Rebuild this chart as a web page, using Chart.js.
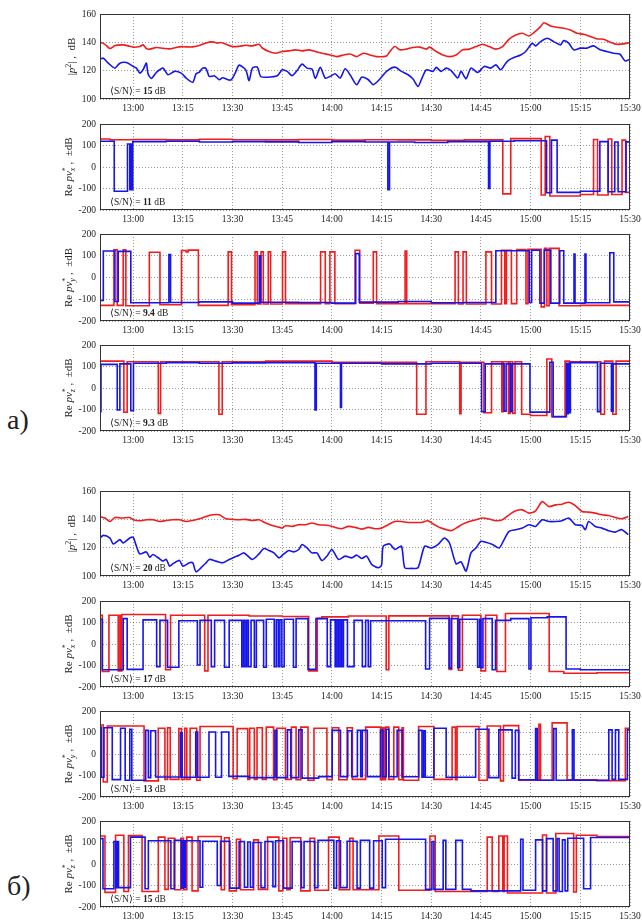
<!DOCTYPE html>
<html>
<head>
<meta charset="utf-8">
<script src="https://cdn.jsdelivr.net/npm/chart.js"></script>
<style>
  body { margin: 0; background: #fff; width: 642px; height: 922px; position: relative; overflow: hidden; }
  canvas { position: absolute; left: 0; }
  .tag { position: absolute; left: 7px; font: 28px "Liberation Serif", "Times New Roman", serif; line-height: 28px; color: #222; }
</style>
</head>
<body>
<div class="tag" style="top:406px">a)</div>
<div class="tag" style="top:872px">б)</div>
<canvas id="p1"></canvas>
<canvas id="p2"></canvas>
<canvas id="p3"></canvas>
<canvas id="p4"></canvas>
<canvas id="p5"></canvas>
<canvas id="p6"></canvas>
<canvas id="p7"></canvas>
<canvas id="p8"></canvas>
<script>
// time axis: minutes after 12:50
const timeTicks = [10, 25, 40, 55, 70, 85, 100, 115, 130, 145, 160];
const timeLabels = ['13:00', '13:15', '13:30', '13:45', '14:00', '14:15', '14:30', '14:45', '15:00', '15:15', '15:30'];
const powTicks = [100, 120, 140, 160];
const reTicks = [-200, -100, 0, 100, 200];
const snrValues = ['15', '11', '9.4', '9.3', '20', '17', '13', '15'];

// а) |p^2|
const aPowRed = [[0,140],[1.5,138.6],[3,135.6],[4.5,137.7],[7,138.2],[8.5,137.5],[10,136.6],[12,137],[13,138.2],[14,135.6],[15,135.2],[17,136.3],[19,135.8],[21,135.4],[23,136.4],[24.5,137],[26,136.8],[28,136.8],[30,137.7],[32,139.6],[34,140.3],[35.5,139.4],[36.5,139.9],[38,138.7],[40,137],[42,137.2],[44,137.9],[46,137.5],[48,138.6],[49,136],[51,133.5],[53,132.3],[55,133.5],[57,134],[59,134.7],[61,134],[63,134.7],[65,133.5],[67,132.3],[69.5,131.1],[71.5,129.9],[73.5,131.1],[75.5,131.8],[77.5,129.9],[79.5,132.3],[81.5,131.1],[83.5,129.9],[86.5,130.4],[87.5,133.5],[89,137],[90.5,134.7],[92.5,135.2],[94.5,136.4],[96.5,136.6],[98.5,135.2],[99.5,136.6],[101.5,133.5],[103.5,131.1],[105.5,129.9],[107.5,131.1],[109.5,134.7],[111.5,135.2],[113.5,137],[115.5,138.6],[117.5,137],[119.5,135.2],[121.5,137],[123.5,142.2],[125.5,145.2],[127.5,146.4],[129.5,144.5],[131,146.9],[133,151.1],[134,153.8],[136,151.6],[138,150.6],[140,149.9],[142,148.7],[144,146.4],[146,145.7],[148,144.1],[150,142.4],[152,142.2],[154,140.1],[156,138.6],[158,138.9],[160,139.9]];
const aPowBlue = [[0,128.1],[1,128.8],[2.5,125.3],[4.5,121.8],[6,125.3],[8,125.7],[10,123],[11,121.8],[12,118.3],[13,120.6],[14,125.3],[14.5,117.8],[15.5,114.5],[17,118.7],[19,121.8],[20.5,117.1],[22.5,119.5],[24.5,118.3],[26,114.8],[28,111.8],[29,117.8],[30,119],[31,121.8],[32,121.6],[33,115.9],[34.5,116.4],[36,113.6],[37,115],[39.5,113.4],[41,119.2],[42,123.9],[44,120.6],[45,112.9],[46,121.8],[47.5,122.5],[48.5,115.9],[50.5,115.4],[53.5,116.4],[55,120.6],[56.5,119.5],[58,116.4],[59.5,120.1],[61,124.6],[62.5,121.8],[64,121.1],[65,114.5],[66.5,122.3],[68,114.8],[69.5,116],[71,117.8],[72.5,114.8],[74,121.3],[75.5,117.1],[77.5,110.1],[79,115.4],[81,113.6],[82.5,110.1],[84.5,114.1],[86.5,119.5],[89,122.5],[91,119.5],[93,117.1],[94.5,114.1],[96,108.9],[97,113.6],[98.5,120.6],[100.5,119.5],[101.5,122.3],[103,119.5],[104.5,121.8],[106,120.1],[108,114.8],[109,119.5],[110.5,114.3],[112,121.8],[114,118.7],[116,123],[118,121.8],[119.5,124.1],[121,120.6],[122.5,125.3],[123.5,127.6],[125,129.3],[127,131.1],[128.5,133.5],[130.5,139.4],[131.5,137.5],[133,140.5],[135,142.9],[137,140.5],[139,138.2],[140,141.2],[141.5,139.4],[143,134.7],[145,135.9],[147,135.9],[149,137.5],[151,134.7],[153,133.5],[155,132.3],[157,131.6],[158.5,126.9],[160,128.1]];

// а) Re pv*  (each pair: level from that minute on)
const aXRed = [[0,130],[3,127],[10,128],[20,126],[30,129],[40,127],[50,126],[60,128],[70,125],[80,127],[90,126],[100,124],[110,126],[121.6,-125],[124,132],[133.2,-130],[134.4,142],[135.8,-135],[145,-128],[149,128],[150.2,-130],[153.4,130],[154.5,-128],[157.6,125],[158.7,-118],[160,-118]];
const aXBlue = [[0,120],[4.3,-113],[8.3,107],[9.0,-106],[9.3,107],[9.6,-106],[9.9,118],[20,120],[30,116],[40,118],[50,117],[60,114],[70,118],[80,116],[86.9,-106],[87.4,116],[95,114],[105,118],[117.3,-100],[117.7,120],[125,122],[134.8,-120],[136.3,125],[138,-118],[145,-113],[150.9,118],[153.4,-115],[155.4,116],[156.4,-115],[158.8,117],[160,117]];
const aYRed = [[0,-128],[4.2,127],[5.2,-128],[7.0,127],[7.8,-130],[14.9,116],[18.1,-125],[24.6,124],[26.0,118],[26.6,126],[29.7,-128],[38.7,118],[39.7,-125],[46.8,118],[47.5,-122],[48.6,118],[49.3,-122],[50.8,118],[51.5,-122],[55.1,118],[56.0,-120],[66.6,118],[68.0,-120],[69.4,118],[70.9,-120],[77.0,125],[78.4,-118],[82.5,118],[83.5,-120],[92.1,122],[92.6,-120],[107.2,118],[108.2,-122],[109.6,118],[110.6,-122],[116.5,118],[118.2,-122],[121.2,125],[122.2,-120],[122.7,125],[124.2,-120],[125.8,129],[128.6,-120],[129.2,130],[133.2,-135],[134.2,134],[134.9,-130],[135.6,134],[138.6,-130],[145,-128],[160,-132]];
const aYBlue = [[0,-105],[1.0,122],[4.5,-110],[5.5,120],[9.3,-116],[20.8,106],[21.3,-115],[30,-112],[40,-118],[48.1,100],[48.5,-114],[60,-115],[70,-118],[77.2,110],[78.3,-113],[90,-110],[100,-116],[110,-115],[119.5,123],[129.6,-115],[130.3,125],[132.8,-118],[134.1,126],[136.1,-118],[138.8,123],[140.0,-118],[143.1,108],[143.4,-118],[146.4,108],[146.7,-116],[153.9,114],[155.1,-112],[160,-110]];
const aZRed = [[0,125],[7.2,-113],[8.2,122],[17.6,-118],[18.3,122],[35.9,-122],[36.9,122],[50,125],[70,120],[95.6,-122],[98.4,122],[108.6,-120],[109.0,120],[115.9,-115],[118.2,122],[121.3,-110],[121.7,122],[123.3,-118],[123.8,122],[124.6,-118],[125.3,122],[127.3,-122],[130,-128],[134.9,135],[136.4,-134],[140.4,125],[141.7,122],[151.2,-122],[152.3,125],[154.8,-122],[155.8,125],[160,125]];
const aZBlue = [[0,-110],[0.3,110],[5.2,-102],[6.0,112],[9.3,-105],[10.1,115],[20,118],[30,115],[40,117],[50,118],[64.9,-102],[65.3,115],[72.6,-91],[72.9,115],[85,112],[100,115],[115.2,-110],[116.3,112],[122.0,-108],[122.6,112],[123.9,-110],[124.4,112],[129.8,-112],[135.8,120],[136.8,-133],[140.8,115],[141.1,-120],[141.4,115],[141.7,-115],[142.0,118],[150.2,-110],[151.0,115],[154.4,-108],[154.9,112],[160,115]];

// б) |p^2|
const bPowRed = [[0,142],[1.5,140.9],[3,138.5],[4.5,141.3],[6.5,140.9],[9,141.3],[10,139.7],[12,139],[14,139.7],[16,139.7],[18,138.5],[20,139.2],[22,139.7],[24,139.7],[26,138.5],[28,139.2],[30,140.4],[32,142],[34,143.2],[36,143.2],[38,140.4],[40,140],[42,139.7],[44,140],[46,139.2],[48,139.7],[50,137.4],[52,135.7],[54,134.5],[55,133.8],[56,135.5],[58,135],[60,136.2],[62,136.2],[64,137.4],[66,136.2],[69,135.7],[71,134.3],[73,133.4],[75,135],[77,134.3],[79,133.1],[81,134.3],[83,133.4],[85,133.8],[87,136.2],[89,138.5],[91,138.5],[93,137.8],[95,137.8],[97,137.8],[99,139],[101,136.2],[103,133.8],[106,132],[107.5,133.8],[109.5,136.6],[111.5,138.5],[113.5,139.7],[115.5,140.9],[117.5,140.2],[119.5,139],[121.5,139.7],[123.5,143.2],[125.5,146],[127.5,146.7],[129.5,144.4],[131.5,146],[133.5,152.5],[135.5,149],[137.5,150.2],[139.5,150.7],[141.5,152.1],[143.5,149.7],[145.5,145.5],[147.5,145.1],[149.5,144.4],[151.5,143.2],[153.5,142.7],[155.5,141.3],[157.5,140.4],[159.5,142]];
const bPowBlue = [[0,126.8],[1,128.7],[3,126.8],[4,122.6],[6,125.7],[7,123.3],[9,126.8],[10,127.3],[11,121],[12,115.6],[14,117],[15,113.3],[16,115.2],[18,112.1],[19,110.5],[20,111.7],[21,107],[22,108.6],[24,111],[25,107],[27,109.3],[28,109.3],[29,103],[31,107],[32,109.3],[33,111.7],[35,110.5],[37,109.3],[39,111.7],[40.5,113.3],[42,114.7],[43.5,116.3],[46,111.7],[48,115.6],[49.5,119.4],[51,118],[52.5,116.3],[54,112.8],[55.5,115.6],[57,118],[58.5,117],[60,118.7],[61,122.2],[62.5,119.8],[64,116.3],[65.5,116.3],[67,110.9],[68.5,114],[70,118.7],[72,111.7],[74,114],[76,112.8],[77.5,114.7],[79,112.4],[80.5,114],[82,108.2],[84,105.8],[85,107.7],[85.5,121],[87.5,122.6],[89,118.7],[91,121],[92,105.8],[94,105.4],[96,105.8],[98,121],[100,119.8],[102,122.2],[104,126.8],[105.5,123.3],[107.5,108.6],[109,110],[110.5,103.5],[112,116.3],[113.5,119.8],[115,124.5],[116.5,123.8],[118.5,122.2],[120.5,119.8],[122,125.7],[123.5,131.5],[125.5,132.7],[127.5,133.8],[129.5,136.2],[131.5,135],[133.5,139.7],[135.5,138.5],[137.5,138.5],[139.5,139],[141.5,140.9],[143.5,136.2],[145.5,135.7],[146.5,132.7],[147.5,138.5],[149.5,135],[151.5,133.8],[153.5,132],[155.5,131],[157.5,132.7],[159.5,129.2]];

// б) Re pv*
const bXRed = [[0,134],[0.7,-128],[2.7,134],[5.5,-125],[6.0,134],[6.3,-125],[6.6,137],[19.8,-120],[21.3,134],[31.6,-125],[32.6,134],[45,130],[55,128],[63.0,-125],[65.6,119],[67,126],[75,130],[86.4,-120],[87.2,131],[105.4,-118],[106.2,131],[108.2,-122],[109.4,134],[115.0,-125],[116.4,134],[119.8,-128],[122.4,142],[135.6,-128],[140,-136],[150,-134],[160,-130]];
const bXBlue = [[0,115],[0.7,-120],[7.0,118],[8.2,-118],[13.0,112],[17.1,-105],[18.1,110],[20.4,-108],[23.8,108],[29.4,-98],[30.2,110],[33.6,-105],[34.6,110],[37.6,-108],[39.0,110],[42.8,-105],[43.3,110],[43.8,-105],[44.3,110],[44.8,-105],[45.6,110],[46.6,-108],[47.2,110],[49.4,-108],[50.2,115],[52.6,-106],[53.2,112],[53.8,-106],[54.3,112],[54.9,-106],[55.6,115],[58.4,-108],[59.2,118],[62.8,-118],[65.2,118],[68.6,-105],[69.6,112],[71.0,-105],[71.5,112],[72.0,-105],[72.5,112],[73.0,-105],[73.5,112],[74.7,-105],[76.7,110],[79.2,-105],[80.2,110],[81.0,-105],[81.7,108],[98.3,-116],[99.5,119],[105.4,-112],[106.0,118],[108.0,-110],[108.6,115],[114.0,-108],[114.6,115],[115.0,-110],[115.6,118],[118.4,-120],[119.4,110],[124,118],[129.5,-116],[130.1,122],[135,126],[140.7,-116],[145,-120],[160,-118]];
const bYRed = [[0,135],[1.0,-130],[2.2,130],[13.3,-125],[17.6,120],[19.6,-118],[20.4,122],[21.2,-118],[23.8,118],[24.6,-118],[25.6,120],[26.2,-118],[27.2,120],[29.2,-122],[30.2,128],[40.2,-115],[41.4,118],[44.6,-118],[45.2,120],[46.6,-118],[47.4,122],[49.0,-118],[50.2,125],[52.4,-120],[53.4,120],[56.0,-118],[57.8,125],[59.2,-120],[60.6,125],[62.8,-122],[64.6,120],[68.5,-120],[70.1,122],[72.1,-120],[74.6,122],[76.2,-118],[80.2,125],[84.7,-120],[85.2,122],[85.7,-120],[86.2,125],[87.2,-118],[88.7,125],[90.2,-120],[91.2,122],[91.6,-122],[96.2,128],[100.8,-118],[106.3,125],[107.3,-120],[107.8,128],[114.4,-122],[116.9,130],[120.9,-125],[121.8,132],[126.4,-122],[132.5,138],[133.0,-122],[136.5,145],[141.0,-120],[150,-124],[158.6,120],[160,120]];
const bYBlue = [[0,125],[0.4,-108],[1.2,122],[3.7,-119],[6.2,120],[7.6,-122],[9.0,115],[9.6,-122],[13.8,110],[14.6,-110],[15.3,108],[16.8,-107],[24.3,100],[24.8,-108],[28.9,102],[29.5,-108],[32.9,102],[34.9,-108],[36.7,102],[38.9,-104],[45,-110],[52.8,110],[53.3,-110],[56.6,112],[57.6,-110],[60.0,112],[61.0,-112],[66,-105],[70.1,110],[72.6,-105],[74.8,108],[76.0,-105],[77.7,110],[78.7,-105],[79.2,110],[80.7,-105],[84.7,110],[85.4,-105],[86.4,115],[87.2,-106],[89.7,110],[91.2,-106],[96.2,110],[97.2,-108],[97.7,108],[98.2,-108],[100.8,120],[104.5,-108],[113.4,115],[117.4,-110],[120.4,112],[124.4,-112],[125.4,110],[126.4,-120],[131.5,118],[132.0,-122],[137.0,118],[137.7,-122],[142.6,112],[143.1,-122],[153.6,112],[154.6,-118],[155.6,112],[156.6,-118],[159.2,112],[160,112]];
const bZRed = [[0,130],[1.5,-132],[4.7,134],[7.2,-128],[8.6,132],[12.7,-128],[17.6,125],[19.6,-118],[20.6,120],[22.6,-120],[24.4,120],[25.2,-120],[26.2,125],[27.8,-125],[29.6,128],[36.6,-120],[37.6,122],[39.0,-125],[41.2,115],[42.4,-120],[46.4,112],[47.8,-118],[50.6,125],[54.0,-125],[55.2,120],[56.4,-120],[57.4,122],[60.6,-125],[63.4,120],[64.8,-122],[69.0,125],[72.2,-120],[75.4,120],[76.4,-120],[84.2,130],[90.2,-122],[99.6,130],[101.2,-128],[116.9,125],[118.4,-128],[120.4,130],[121.6,-128],[122.0,130],[123.0,-135],[133.6,135],[134.8,-135],[137.6,142],[143.0,-130],[143.8,134],[150,128],[160,132]];
const bZBlue = [[0,118],[0.9,-115],[4.2,105],[4.8,-110],[5.2,105],[5.6,-110],[9.2,125],[13.6,-115],[14.6,108],[21.4,-115],[22.4,110],[24.6,-112],[25.0,108],[25.4,-110],[25.8,108],[30.2,-108],[31.0,106],[35.4,-100],[36.4,106],[39.2,-112],[42.0,105],[43.6,-108],[44.6,102],[45.4,-108],[46.2,100],[48.6,-110],[49.8,105],[52.2,-105],[53.0,108],[55.4,-112],[58.0,105],[60.8,-110],[61.6,105],[64.8,-110],[65.8,110],[70.6,-112],[71.4,108],[72.6,-110],[74.6,106],[77.6,-112],[78.6,110],[81.4,-112],[82.6,108],[85.2,-110],[86.2,115],[98.3,-118],[100.2,105],[100.8,-118],[103.6,110],[104.4,-118],[107.4,110],[109.4,-118],[112,-125],[127.0,115],[127.7,-122],[131.5,112],[133.6,-125],[134.8,118],[136.8,-125],[138.0,118],[138.6,-128],[139.6,112],[140.4,-125],[141.2,120],[146.0,-115],[148.1,123],[160,125]];

const RED = 'rgb(242,28,28)';
const BLUE = 'rgb(22,22,236)';
const SERIF = '"Liberation Serif", "Times New Roman", serif';

const powLabel = [{t: '|'}, {t: 'p', f: 'i'}, {t: '2', d: 'sup'}, {t: '|'}, {t: ' ,  dB'}];
function reLabel(axis) {
    return [{t: 'Re '}, {t: 'pv', f: 'i'}, {t: '*', d: 'sup', sub: axis}, {t: ' ,  \u00b1dB'}];
}

const panels = [
    {id: 'p1', top: 14, bottom: 99, ticks: powTicks, red: aPowRed, blue: aPowBlue, step: false, label: powLabel, lx: 75},
    {id: 'p2', top: 124, bottom: 210, ticks: reTicks, red: aXRed, blue: aXBlue, step: true, label: reLabel('x'), lx: 72},
    {id: 'p3', top: 234, bottom: 321, ticks: reTicks, red: aYRed, blue: aYBlue, step: true, label: reLabel('y'), lx: 72},
    {id: 'p4', top: 345, bottom: 431, ticks: reTicks, red: aZRed, blue: aZBlue, step: true, label: reLabel('z'), lx: 72},
    {id: 'p5', top: 491, bottom: 576, ticks: powTicks, red: bPowRed, blue: bPowBlue, step: false, label: powLabel, lx: 75},
    {id: 'p6', top: 601, bottom: 687, ticks: reTicks, red: bXRed, blue: bXBlue, step: true, label: reLabel('x'), lx: 72},
    {id: 'p7', top: 711, bottom: 797, ticks: reTicks, red: bYRed, blue: bYBlue, step: true, label: reLabel('y'), lx: 72},
    {id: 'p8', top: 821, bottom: 907, ticks: reTicks, red: bZRed, blue: bZBlue, step: true, label: reLabel('z'), lx: 72}
];

function partFont(p, size) {
    const s = p.d ? size * 0.72 : size;
    return (p.f === 'i' ? 'italic ' : '') + (p.f === 'b' ? 'bold ' : '') + s + 'px ' + SERIF;
}
function partWidth(ctx, p, size) {
    ctx.font = partFont(p, size);
    let w = ctx.measureText(p.t).width;
    if (p.sub) {
        ctx.font = 'italic ' + (size * 0.72) + 'px ' + SERIF;
        w = Math.max(w, ctx.measureText(p.sub).width);
    }
    return w;
}
function drawParts(ctx, parts, size, x, y) {
    parts.forEach(p => {
        ctx.font = partFont(p, size);
        if (p.d === 'sup') {
            ctx.fillText(p.t, x, y - size * 0.38);
            if (p.sub) {
                ctx.font = 'italic ' + (size * 0.72) + 'px ' + SERIF;
                ctx.fillText(p.sub, x, y + size * 0.28);
            }
        } else {
            ctx.fillText(p.t, x, y);
        }
        x += partWidth(ctx, p, size);
    });
}

function makeDecor(p, snr) {
    return {
        id: 'decor',
        afterDraw(chart) {
            const ctx = chart.ctx, a = chart.chartArea;
            ctx.save();
            ctx.strokeStyle = '#333';
            ctx.lineWidth = 1;
            ctx.strokeRect(Math.round(a.left) + 0.5, Math.round(a.top) + 0.5,
                Math.round(a.right - a.left) - 1, Math.round(a.bottom - a.top) - 1);
            ctx.fillStyle = '#222';
            ctx.textBaseline = 'alphabetic';
            const size = 11;
            const w = p.label.reduce((s, q) => s + partWidth(ctx, q, size), 0);
            ctx.translate(p.lx, (a.top + a.bottom) / 2);
            ctx.rotate(-Math.PI / 2);
            drawParts(ctx, p.label, size, -w / 2, 0);
            ctx.restore();

            ctx.save();
            ctx.fillStyle = '#222';
            ctx.textBaseline = 'alphabetic';
            const snrParts = [{t: '\u27e8S/N\u27e9 = '}, {t: snr, f: 'b'}, {t: ' dB'}];
            drawParts(ctx, snrParts, 9.5, a.left + 10, a.bottom - 5);
            ctx.restore();
        }
    };
}

panels.forEach((p, i) => {
    const cv = document.getElementById(p.id);
    const h = (p.bottom - p.top) + 10 + 22;
    cv.width = 642;
    cv.height = h;
    cv.style.top = (p.top - 10) + 'px';

    const line = (pts, color) => ({
        data: pts.map(q => ({x: q[0], y: q[1]})),
        borderColor: color,
        borderWidth: 1.6,
        pointRadius: 0,
        fill: false,
        stepped: p.step,
        tension: p.step ? 0 : 0.25
    });

    new Chart(cv, {
        type: 'line',
        data: {datasets: [line(p.blue, BLUE), line(p.red, RED)]},
        options: {
            responsive: false,
            animation: false,
            devicePixelRatio: 1,
            layout: {padding: {left: 0, top: 10, right: 12, bottom: 0}},
            plugins: {legend: {display: false}, tooltip: {enabled: false}},
            scales: {
                x: {
                    type: 'linear',
                    min: 0,
                    max: 160,
                    afterBuildTicks: s => { s.ticks = timeTicks.map(v => ({value: v})); },
                    afterFit: s => { s.height = 22; s.paddingLeft = 0; s.paddingRight = 0; },
                    ticks: {
                        autoSkip: false,
                        maxRotation: 0,
                        padding: 4,
                        color: '#222',
                        font: {family: SERIF, size: 9.5},
                        callback: v => timeLabels[timeTicks.indexOf(v)]
                    },
                    grid: {color: 'rgba(0,0,0,0.5)', lineWidth: 0.8, drawTicks: false},
                    border: {display: false, dash: [1, 2]}
                },
                y: {
                    type: 'linear',
                    min: p.ticks[0],
                    max: p.ticks[p.ticks.length - 1],
                    afterBuildTicks: s => { s.ticks = p.ticks.map(v => ({value: v})); },
                    afterFit: s => { s.width = 100; s.paddingTop = 0; s.paddingBottom = 0; },
                    ticks: {
                        padding: 4,
                        color: '#222',
                        font: {family: SERIF, size: 9.5}
                    },
                    grid: {color: 'rgba(0,0,0,0.5)', lineWidth: 0.8, drawTicks: false},
                    border: {display: false, dash: [1, 2]}
                }
            }
        },
        plugins: [makeDecor(p, snrValues[i])]
    });
});
</script>
</body>
</html>
